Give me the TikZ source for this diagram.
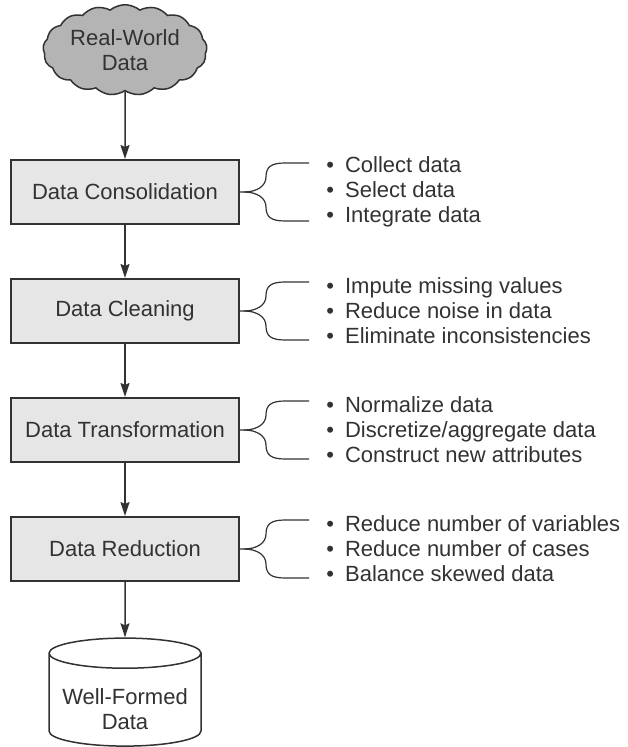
\documentclass[tikz,border=0pt]{standalone}
\usepackage{fontspec}
\setmainfont{Liberation Sans}
\usetikzlibrary{shapes.geometric,shapes.symbols,arrows.meta,positioning}
\definecolor{inkgray}{RGB}{50,50,50}
\definecolor{boxgray}{RGB}{230,230,230}
\definecolor{cloudgray}{RGB}{180,180,180}

\begin{document}
\begin{tikzpicture}[x=0.5pt,y=-0.5pt,
  every node/.style={font=\fontsize{11}{12.5}\selectfont, text=inkgray},
  stepbox/.style={draw=inkgray, line width=1pt, fill=boxgray, minimum width=114pt, minimum height=32pt, inner sep=0pt},
  arr/.style={draw=inkgray, line width=0.75pt, -{Stealth[length=7pt,width=4.5pt,inset=1pt]}},
  brc/.style={draw=inkgray, line width=0.6pt},
  items/.style={anchor=west, align=left, inner sep=0pt}]
\useasboundingbox (0,0) rectangle (627,747);
% source and sink
\node[cloud, cloud puffs=17, cloud puff arc=80, aspect=1.9, draw=inkgray, line width=0.75pt, fill=cloudgray, minimum width=82pt, minimum height=43pt, align=center, inner sep=0pt] (rw) at (125,50) {Real-World\\Data};
\node[cylinder, shape border rotate=90, aspect=0.24, draw=inkgray, line width=0.75pt, fill=white, minimum width=76pt, minimum height=54pt, align=center, inner sep=0pt] (wf) at (125,700) {\mbox{}\\[5pt]Well-Formed\\Data};
% the four steps
\node[stepbox] (b1) at (125,192) {Data Consolidation};
\node[stepbox] (b2) at (125,311) {Data Cleaning};
\node[stepbox] (b3) at (125,430) {Data Transformation};
\node[stepbox] (b4) at (125,549) {Data Reduction};
\draw[arr] (rw.south) -- (b1.north);
\draw[arr] (b1) -- (b2);
\draw[arr] (b2) -- (b3);
\draw[arr] (b3) -- (b4);
\draw[arr] (b4) -- (wf.north);
% braces
\foreach \b in {b1,b2,b3,b4} {
  \begin{scope}[shift={(\b.east)}]
  \draw[brc] (0,0) -- (4,0) .. controls (17,0) and (26,-6) .. (26,-15) .. controls (26,-25) and (31,-29) .. (45,-29) -- (69,-29);
  \draw[brc] (4,0) .. controls (17,0) and (26,6) .. (26,15) .. controls (26,25) and (31,29) .. (45,29) -- (69,29);
  \end{scope}
}
% task lists
\node[items] (l1) at (326,192) {\textbullet\enspace Collect data\\\textbullet\enspace Select data\\\textbullet\enspace Integrate data};
\node[items] (l2) at (326,311) {\textbullet\enspace Impute missing values\\\textbullet\enspace Reduce noise in data\\\textbullet\enspace Eliminate inconsistencies};
\node[items] (l3) at (326,430) {\textbullet\enspace Normalize data\\\textbullet\enspace Discretize/aggregate data\\\textbullet\enspace Construct new attributes};
\node[items] (l4) at (326,549) {\textbullet\enspace Reduce number of variables\\\textbullet\enspace Reduce number of cases\\\textbullet\enspace Balance skewed data};
\end{tikzpicture}
\end{document}
